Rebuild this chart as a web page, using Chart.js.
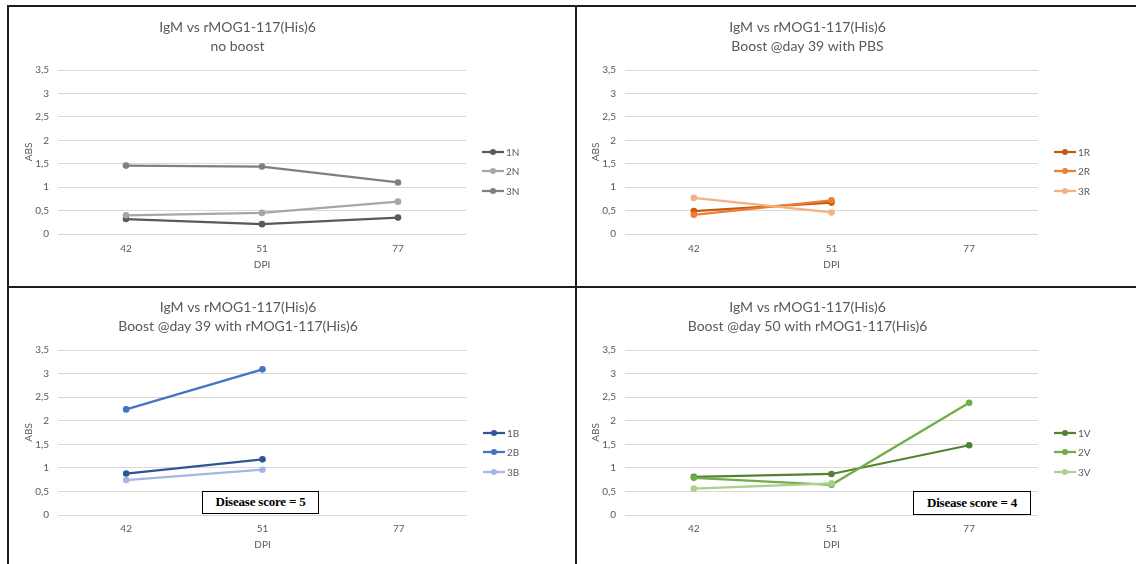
<!DOCTYPE html>
<html>
<head>
<meta charset="utf-8">
<script src="https://cdn.jsdelivr.net/npm/chart.js@4.4.1/dist/chart.umd.min.js"></script>
<style>
  html, body { margin: 0; padding: 0; background: #fff; }
  body { width: 1136px; height: 564px; position: relative; overflow: hidden; font-family: Lato, sans-serif; }
  .panel { position: absolute; }
  .rule { position: absolute; background: #1e1e1e; }
  .score { position: absolute; box-sizing: border-box; border: 1.5px solid #000; background: #fff;
           font: bold 13px "Liberation Serif", serif; color: #000; text-align: center; letter-spacing: -0.2px; }
</style>
</head>
<body>
<div class="rule" style="left:7px;top:5px;width:1129px;height:2px"></div>
<div class="rule" style="left:7px;top:5px;width:2px;height:559px"></div>
<div class="rule" style="left:575px;top:5px;width:2px;height:559px"></div>
<div class="rule" style="left:7px;top:286px;width:1129px;height:2px"></div>

<div class="panel" style="left:9px;top:7px;width:566px;height:279px"><canvas id="c1"></canvas></div>
<div class="panel" style="left:577px;top:7px;width:559px;height:279px"><canvas id="c2"></canvas></div>
<div class="panel" style="left:9px;top:289px;width:566px;height:275px"><canvas id="c3"></canvas></div>
<div class="panel" style="left:577px;top:289px;width:559px;height:275px"><canvas id="c4"></canvas></div>

<div class="score" style="left:202px;top:491px;width:117px;height:23px;line-height:20px">Disease score = 5</div>
<div class="score" style="left:913px;top:491px;width:118px;height:24px;line-height:21px">Disease score = 4</div>

<script>
// ---- data ----
const dpiLabels = ['42', '51', '77'];

const titleNoBoost = ['IgM vs rMOG1-117(His)6', 'no boost'];
const titlePBS = ['IgM vs rMOG1-117(His)6', 'Boost @day 39 with PBS'];
const titleBoost39 = ['IgM vs rMOG1-117(His)6', 'Boost @day 39 with rMOG1-117(His)6'];
const titleBoost50 = ['IgM vs rMOG1-117(His)6', 'Boost @day 50 with rMOG1-117(His)6'];

const series1N = [0.32, 0.21, 0.35];
const series2N = [0.40, 0.45, 0.69];
const series3N = [1.46, 1.44, 1.10];

const series1R = [0.49, 0.67, null];
const series2R = [0.41, 0.72, null];
const series3R = [0.77, 0.46, null];

const series1B = [0.88, 1.18, null];
const series2B = [2.24, 3.09, null];
const series3B = [0.74, 0.96, null];

const series1V = [0.81, 0.87, 1.48];
const series2V = [0.79, 0.64, 2.38];
const series3V = [0.56, 0.67, null];

// ---- styling / drawing ----
const TXT = '#595959';
const GRID = '#d9d9d9';

const legendPlugin = {
  id: 'excelLegend',
  afterDraw(chart) {
    const { ctx, chartArea } = chart;
    const offs = [82, 63, 43];
    chart.data.datasets.forEach((ds, i) => {
      const y = chartArea.bottom - offs[i];
      const x0 = chartArea.right + 16;
      ctx.save();
      ctx.strokeStyle = ds.borderColor;
      ctx.lineWidth = 2.25;
      ctx.beginPath(); ctx.moveTo(x0, y); ctx.lineTo(x0 + 22, y); ctx.stroke();
      ctx.fillStyle = ds.borderColor;
      ctx.beginPath(); ctx.arc(x0 + 11, y, 3, 0, Math.PI * 2); ctx.fill();
      ctx.fillStyle = TXT;
      ctx.font = '10px Lato';
      ctx.textBaseline = 'middle';
      ctx.textAlign = 'left';
      ctx.fillText(ds.label, x0 + 24, y + 0.5);
      ctx.restore();
    });
  }
};

function ds(label, data, color, order) {
  return {
    label, data, borderColor: color, backgroundColor: color,
    borderWidth: 2.25, pointRadius: 3.3, pointHoverRadius: 3.3,
    pointBorderWidth: 0, pointBackgroundColor: color, tension: 0, order, spanGaps: false
  };
}

function makeChart(id, titles, datasets, g) {
  new Chart(document.getElementById(id), {
    type: 'line',
    data: { labels: dpiLabels, datasets },
    options: {
      responsive: true, maintainAspectRatio: false, animation: false,
      layout: { padding: { left: 0, right: g.padRight, top: 0, bottom: 0 } },
      plugins: {
        legend: { display: false },
        tooltip: { enabled: false },
        title: {
          display: true, text: titles, color: TXT,
          font: { family: 'Lato', size: 14, weight: 'normal', lineHeight: 19 / 14 },
          padding: { top: g.titleTop, bottom: g.titleBottom }
        }
      },
      scales: {
        x: {
          offset: true,
          grid: { display: false, drawTicks: false },
          border: { display: false },
          ticks: { color: TXT, font: { family: 'Lato', size: 10 }, padding: g.xTickPad },
          title: { display: true, text: 'DPI', color: TXT, font: { family: 'Lato', size: 10 }, padding: { top: 0, bottom: g.xTitlePad } },
          afterFit: s => { s.height = g.xHeight; }
        },
        y: {
          min: 0, max: 3.5,
          grid: { color: GRID, lineWidth: 1, drawTicks: false },
          border: { display: false },
          ticks: {
            stepSize: 0.5, color: TXT, font: { family: 'Lato', size: 10 }, padding: 9,
            callback: v => String(v).replace('.', ',')
          },
          title: { display: true, text: 'ABS', color: TXT, font: { family: 'Lato', size: 10 }, padding: { top: g.yTitlePad, bottom: 0 } },
          afterFit: s => { s.width = g.yWidth; }
        }
      }
    },
    plugins: [legendPlugin]
  });
}

const topGeom = { padRight: 109, titleTop: 10.5, titleBottom: 14.5, xHeight: 52, xTickPad: 9, xTitlePad: 15, yTitlePad: 14, yWidth: 49 };

makeChart('c1', titleNoBoost, [
  ds('1N', series1N, '#595959', 3),
  ds('2N', series2N, '#a6a6a6', 2),
  ds('3N', series3N, '#7f7f7f', 1)
], topGeom);

makeChart('c2', titlePBS, [
  ds('1R', series1R, '#c55a11', 3),
  ds('2R', series2R, '#ed7d31', 2),
  ds('3R', series3R, '#f4b183', 1)
], { padRight: 98, titleTop: 10.5, titleBottom: 14.5, xHeight: 52, xTickPad: 9, xTitlePad: 15, yTitlePad: 13, yWidth: 48 });

makeChart('c3', titleBoost39, [
  ds('1B', series1B, '#2f5597', 3),
  ds('2B', series2B, '#4472c4', 2),
  ds('3B', series3B, '#a3b7e2', 1)
], { padRight: 108, titleTop: 8.5, titleBottom: 14.5, xHeight: 49, xTickPad: 8, xTitlePad: 13, yTitlePad: 14, yWidth: 49 });

makeChart('c4', titleBoost50, [
  ds('1V', series1V, '#548235', 3),
  ds('2V', series2V, '#70ad47', 2),
  ds('3V', series3V, '#a9d18e', 1)
], { padRight: 98, titleTop: 8.5, titleBottom: 14.5, xHeight: 49, xTickPad: 8, xTitlePad: 13, yTitlePad: 13, yWidth: 48 });
</script>
</body>
</html>
